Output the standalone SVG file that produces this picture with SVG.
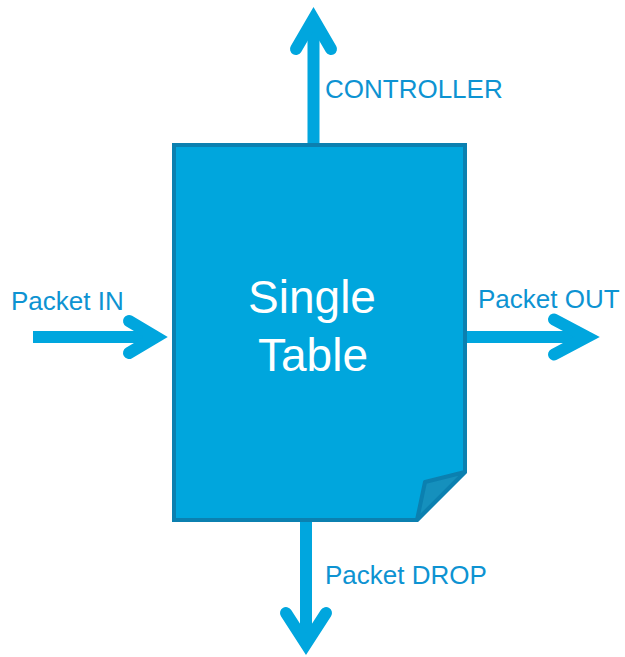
<svg xmlns="http://www.w3.org/2000/svg" width="625" height="657" viewBox="0 0 625 657">
  <style>
    .shaft { stroke: #00a6de; stroke-width: 12; fill: none; stroke-linecap: butt; }
    .head { stroke: #00a6de; stroke-width: 12; fill: none; stroke-linecap: round; stroke-linejoin: miter; stroke-miterlimit: 10; }
    .label { font-family: "Liberation Sans", Arial, sans-serif; font-size: 26px; fill: #0d93d2; }
    .title { font-family: "Liberation Sans", Arial, sans-serif; font-size: 46px; fill: #ffffff; text-anchor: middle; }
  </style>
  <rect width="625" height="657" fill="#ffffff"/>

  <!-- flows in and out of the table -->
  <g id="connectors">
    <g id="to-controller">
      <line class="shaft" x1="313.5" y1="143" x2="313.5" y2="22"/>
      <polyline class="head" points="296,49 313.5,19 331,49"/>
    </g>
    <g id="packet-in-flow">
      <line class="shaft" x1="33" y1="337" x2="153" y2="337"/>
      <polyline class="head" points="129,321 156,337 129,353"/>
    </g>
    <g id="packet-out-flow">
      <line class="shaft" x1="467" y1="337" x2="584" y2="337"/>
      <polyline class="head" points="554,319.5 587,337 554,354.5"/>
    </g>
    <g id="packet-drop-flow">
      <line class="shaft" x1="306" y1="520" x2="306" y2="641"/>
      <polyline class="head" points="286,613 306,644 326,613"/>
    </g>
  </g>

  <!-- table page with folded corner -->
  <g id="single-table">
    <path d="M174,145 H465 V472 L417,520 H174 Z" fill="#00a6dd" stroke="#0b80b0" stroke-width="4" stroke-linejoin="miter"/>
    <path d="M465,472 L425,482 L417,520 Z" fill="#1590bd" stroke="#0b80b0" stroke-width="4" stroke-linejoin="round"/>
    <text class="title" x="312" y="313">Single</text>
    <text class="title" x="313" y="371">Table</text>
  </g>

  <g id="label-controller"><text class="label" x="325" y="98">CONTROLLER</text></g>
  <g id="label-packet-in"><text class="label" x="11" y="310">Packet IN</text></g>
  <g id="label-packet-out"><text class="label" x="478" y="308">Packet OUT</text></g>
  <g id="label-packet-drop"><text class="label" x="325" y="584">Packet DROP</text></g>
</svg>
